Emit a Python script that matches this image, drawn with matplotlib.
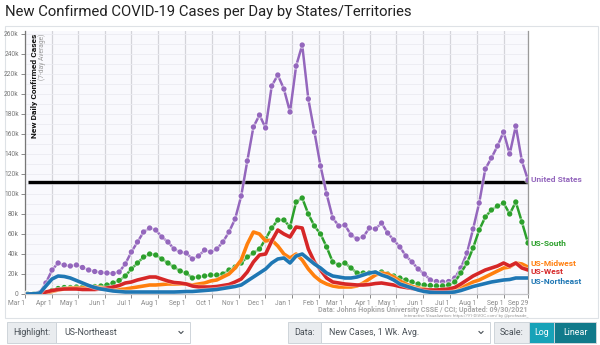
import matplotlib
matplotlib.use('Agg')
import matplotlib.pyplot as plt
import matplotlib.patheffects as pe
from matplotlib.patches import Rectangle
from matplotlib.ticker import FuncFormatter, MultipleLocator
import pandas as pd

plt.rcParams['font.family'] = ['Roboto', 'DejaVu Sans']

# weekly readings of the 7-day average, thousands of new cases per day
dates = pd.date_range('2020-03-04', periods=83, freq='7D')

us = [0, 0.1, 1.5, 11, 24, 31, 29, 28, 29, 26.5,
      24, 22.5, 21.5, 21, 20.5, 22, 30, 42, 52, 62,
      66, 64, 57, 52, 45, 42, 41, 35, 38, 44,
      42, 45, 52, 62, 75, 98, 133, 167, 179, 166,
      208, 219, 205, 182, 228, 249, 195, 162, 128, 100,
      76, 68, 69, 59, 55, 57, 66, 65, 71, 61,
      54, 47, 38, 32, 25, 20, 14, 12.5, 12, 12.5,
      16, 26, 41, 65, 91, 125, 136, 148, 162, 140,
      168, 133, 114]

south = [0, 0, 0.3, 1.5, 3.5, 5.5, 6.5, 6.5, 7, 7,
         7.5, 7.5, 8, 9, 11, 13.5, 18, 25, 31, 37,
         40, 39, 35, 31, 27, 23, 21, 16, 17, 18,
         19, 19, 20, 24, 27, 31, 37, 41, 45, 55,
         66, 74, 74, 67, 92, 96, 80, 68, 60, 47,
         32, 29, 31, 26, 21, 21, 21, 21, 22, 20,
         18, 16, 14, 12, 10, 9, 8.5, 8, 8, 9,
         12, 21, 31, 46, 64, 77, 84, 88, 91, 80,
         92, 72, 51]

midwest = [0, 0, 0.2, 1, 2.5, 4, 5, 6, 6, 6,
           6.5, 7, 6.5, 5, 4.5, 4.5, 5, 6, 7, 8,
           9, 9, 9.5, 10, 10, 10, 10, 9, 10, 11,
           13, 14, 17, 20, 26, 34, 50, 62, 60, 53,
           54, 48, 40, 36, 40, 34, 25, 18, 13, 10,
           8, 7, 7, 7, 8, 11, 15, 19, 21, 20,
           17, 13, 10, 7.5, 6, 5, 4, 3.5, 3.5, 4,
           5, 7, 9, 12, 14, 17, 20, 23, 26, 27,
           31, 30, 27]

west = [0, 0.1, 0.5, 2, 3.5, 4.5, 5, 5, 5, 4.5,
        4.5, 4.5, 5, 6, 7, 8.5, 11, 12, 14, 15.5,
        17, 17, 15, 13, 11.5, 11, 10, 8, 7, 7,
        7, 7.5, 8.5, 9.5, 12, 15, 22, 32, 39, 40,
        53, 64, 60, 57, 67, 66, 45, 32, 24, 16,
        12, 11, 10, 9.5, 9, 9, 9.5, 10.5, 11, 10,
        9, 7.5, 6.5, 5.5, 4.5, 4, 4, 4, 4.5, 5,
        6.5, 10, 14, 18, 21, 24, 26, 28, 31, 28,
        31, 26, 24]

northeast = [0, 0.2, 1, 8, 15, 18, 17.5, 16, 13.5, 11,
             8.5, 6.5, 5, 4, 3, 2.5, 2, 2, 2, 2,
             2, 2, 2, 2, 2, 2.2, 2.5, 2.5, 3, 3.5,
             4, 4.5, 5.5, 6.5, 7.5, 9, 13, 17, 21, 25,
             31, 35, 36, 31, 38, 40, 35, 30, 26, 21,
             18, 17, 16, 16, 17, 19, 21, 22, 19, 17,
             14, 10, 8, 6, 4, 2.5, 1.7, 1.4, 1.3, 1.5,
             2, 3.5, 5.5, 7.5, 9, 10.5, 12, 13, 14, 14.5,
             16, 16, 16]

names = ['United States', 'US-South', 'US-Midwest', 'US-West', 'US-Northeast']
values = [us, south, midwest, west, northeast]
colors = ['#9467bd', '#2ca02c', '#ff7f0e', '#d62728', '#1f77b4']
dotted = [True, True, False, False, False]
# small vertical nudges so the crowded end labels stay readable
label_nudge = [0, 0, 3, -2, -3]

guide_value = 112.5

tick_dates = list(pd.date_range('2020-03-01', '2021-09-01', freq='MS')) + [pd.Timestamp('2021-09-29')]
tick_labels = [d.strftime('%b ') + str(d.day) for d in tick_dates]

W, H = 600, 345
fig = plt.figure(figsize=(6, 3.45), dpi=100)

# pixel-space layer for the frame, footer and control bar
bg = fig.add_axes([0, 0, 1, 1])
bg.set_xlim(0, W)
bg.set_ylim(H, 0)
bg.axis('off')

bg.add_patch(Rectangle((5, 26), 593, 292, fc='white', ec='#dee2e6', lw=0.8))

fig.text(5 / W, 1 - 12 / H, 'New Confirmed COVID-19 Cases per Day by States/Territories',
         fontsize=10.7, va='center', color='#222222')

# main chart
ax = fig.add_axes([25 / W, (H - 294) / H, 503 / W, 263 / H])
ax.set_facecolor('#f9f9fd')
ax.set_xlim(pd.Timestamp('2020-03-01'), pd.Timestamp('2021-09-29'))
ax.set_ylim(0, 263)

for d in tick_dates:
    ax.axvline(d, color='#d4d4da', lw=0.9, zorder=0)
ax.yaxis.set_minor_locator(MultipleLocator(10))
ax.yaxis.set_major_locator(MultipleLocator(20))
ax.grid(axis='y', which='both', color='#ebebf2', lw=0.6, zorder=0)
ax.set_axisbelow(True)

ax.set_xticks(tick_dates)
ax.set_xticklabels(tick_labels, ha='right')
ax.yaxis.set_major_formatter(FuncFormatter(lambda v, p: '0' if v == 0 else '%dk' % v))
ax.tick_params(axis='both', which='major', labelsize=4.8, colors='#777777', length=3, width=0.6, pad=1.5)
ax.tick_params(axis='y', which='minor', length=0)
for t in ax.get_xticklabels():
    t.set_color('#888888')

ax.spines['top'].set_visible(False)
ax.spines['left'].set_color('#777777')
ax.spines['bottom'].set_color('#c4c4c8')
ax.spines['right'].set_color('#9a9a9a')
for s in ('left', 'bottom', 'right'):
    ax.spines[s].set_linewidth(0.9)

ax.text(0.011, 0.99, 'New Daily Confirmed Cases', rotation=90, transform=ax.transAxes,
        ha='left', va='top', fontsize=6, fontweight='bold', color='#111111')
ax.text(0.026, 0.99, '(7-day Average)', rotation=90, transform=ax.transAxes,
        ha='left', va='top', fontsize=4.8, color='#999999')

ax.plot([dates[0], dates[-1]], [guide_value, guide_value], color='black', lw=2.4,
        solid_capstyle='butt', zorder=3)

for name, vals, color, dots, nudge in zip(names, values, colors, dotted, label_nudge):
    lw = 1.8 if dots else 2.6
    halo = [pe.Stroke(linewidth=lw + 1.0, foreground='white', alpha=0.5), pe.Normal()]
    ax.plot(dates, vals, color=color, lw=lw, marker='o' if dots else None, ms=2.8,
            zorder=4, path_effects=halo)
    ax.text(dates[-1] + pd.Timedelta(days=3), vals[-1] + nudge, name, color=color, fontsize=6,
            fontweight='bold', va='center', ha='left', clip_on=False, zorder=5)

# footer credits
fig.text(528 / W, 1 - 310.5 / H, 'Data: Johns Hopkins University CSSE / CCI; Updated: 09/30/2021',
         ha='right', va='center', fontsize=5.1, fontweight='bold', color='#a8a8a8')
fig.text(528 / W, 1 - 316 / H, 'Interactive Visualization: https://91-DIVOC.com/ by @profwade_',
         ha='right', va='center', fontsize=3.2, color='#999999')

# control bar
def box(x, w, text, fc, tc, ha='center', pad=0):
    bg.add_patch(Rectangle((x, 322), w, 21, fc=fc, ec='#ced4da', lw=0.7))
    tx = x + w / 2 if ha == 'center' else x + pad
    bg.text(tx, 332.5, text, ha=ha, va='center', fontsize=6.4, color=tc)

def chevron(x):
    bg.plot([x - 2, x, x + 2], [331.5, 333.5, 331.5], color='#495057', lw=0.8)

box(7, 49, 'Highlight:', '#e9ecef', '#495057')
box(56, 134, 'US-Northeast', 'white', '#495057', ha='left', pad=8)
chevron(181)
box(288, 33, 'Data:', '#e9ecef', '#495057')
box(321, 169, 'New Cases, 1 Wk. Avg.', 'white', '#495057', ha='left', pad=8)
chevron(481)
box(494, 35, 'Scale:', '#e9ecef', '#495057')
box(529, 25, 'Log', '#17a2b8', 'white')
box(554, 42, 'Linear', '#117a8b', 'white')

fig.savefig('out.png', dpi=100)
